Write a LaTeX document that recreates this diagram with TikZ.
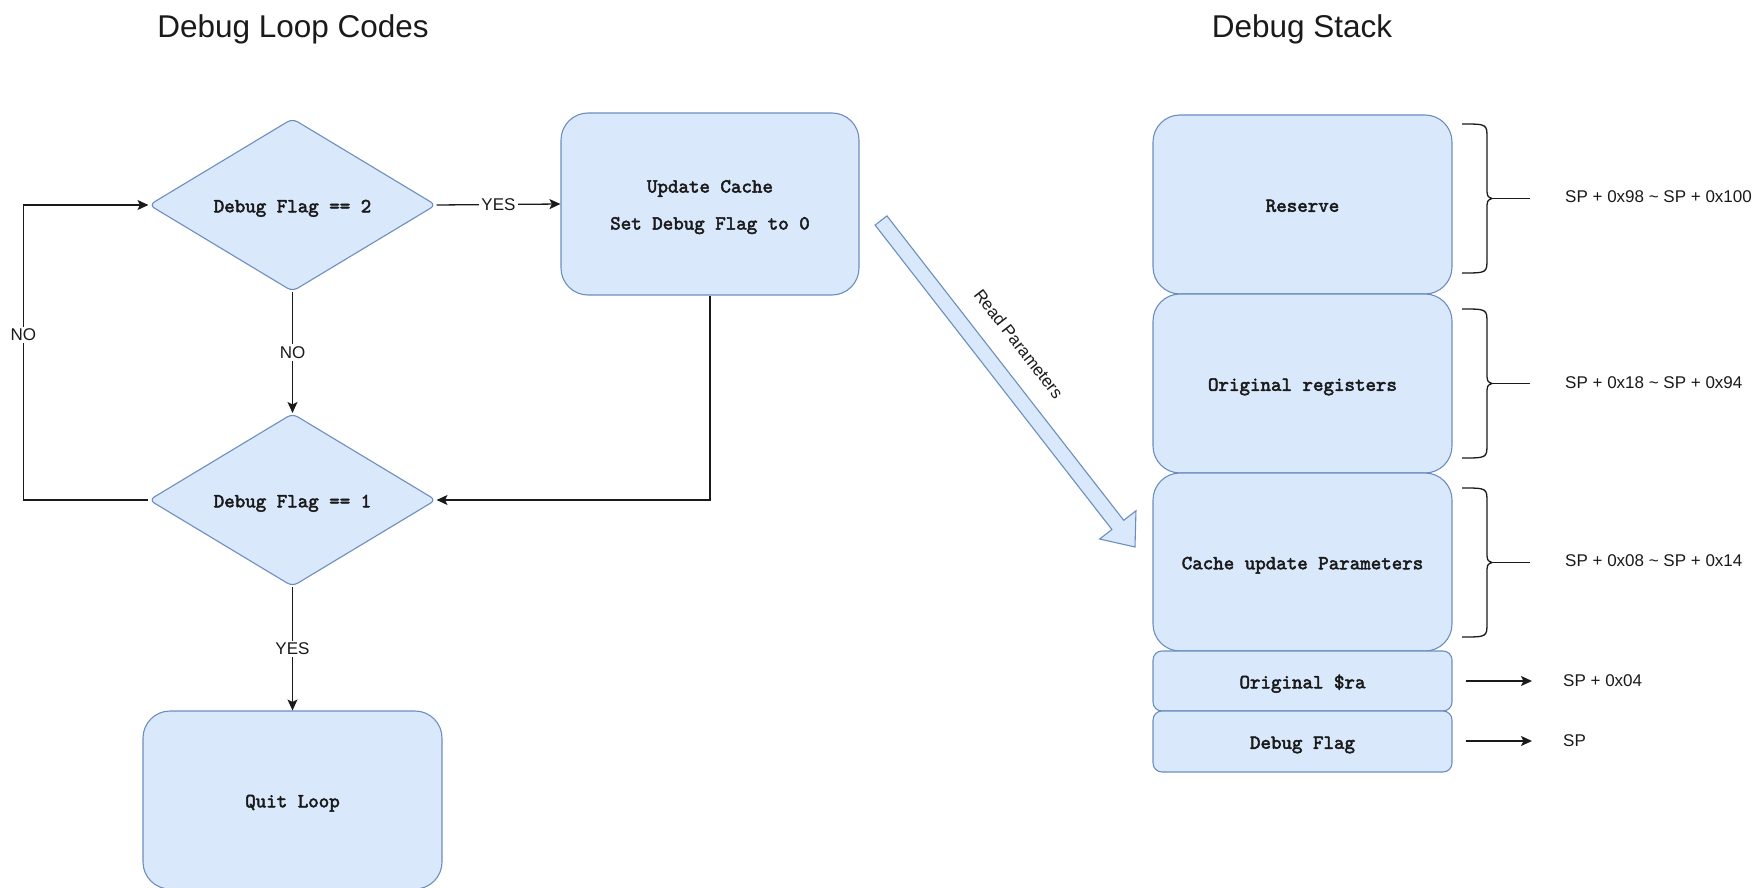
\documentclass[tikz,border=0pt]{standalone}
\usepackage{fontspec}
\setmainfont{Liberation Sans}
\newfontfamily\codefont{lmmono10-regular.otf}[FakeBold=2.5]
\usetikzlibrary{shapes.geometric,arrows.meta,calc}
\definecolor{boxfill}{HTML}{DAE8FC}
\definecolor{boxline}{HTML}{6C8EBF}
\definecolor{ink}{HTML}{1A1A1A}

\begin{document}
\begin{tikzpicture}[x=1pt,y=-1pt,
  every node/.style={inner sep=0pt},
  codebase/.style={font=\codefont\fontsize{20}{24}\selectfont, text=ink},
  code/.style={codebase, text height=17pt, text depth=2.5pt},
  sans/.style={font=\fontsize{17}{20}\selectfont, text=ink},
  heading/.style={font=\fontsize{31.5}{36}\selectfont, text=ink, anchor=base},
  shapestyle/.style={draw=boxline, fill=boxfill, line width=1.1pt},
  decision/.style={diamond, shapestyle, code, minimum width=287pt,
    minimum height=173pt, aspect=1.66, rounded corners=6pt},
  procbox/.style={rectangle, shapestyle, rounded corners=27pt},
  stackbig/.style={rectangle, shapestyle, code, minimum width=299pt, rounded corners=27pt},
  stacksmall/.style={rectangle, shapestyle, code, minimum width=299pt, rounded corners=9pt},
  conn/.style={draw=ink, line width=1.3pt},
  arr/.style={conn, -{Stealth[length=11pt,width=10pt,inset=2.5pt]}},
  lbl/.style={sans, fill=white, inner sep=2pt},
  addr/.style={sans, anchor=west},
  bracepath/.style={draw=ink, line width=1.3pt},
  blockarrow/.style={shapestyle, line join=miter}
]
\useasboundingbox (0,0) rectangle (1762,888);

% headings
\node[heading] (t1) at (293,38) {Debug Loop Codes};
\node[heading] (t2) at (1302,38) {Debug Stack};

% flow chart of the debug loop
\node[decision] (d1) at (292.5,205) {Debug Flag == 2};
\node[decision] (d2) at (292.5,500) {Debug Flag == 1};
\node[procbox, codebase, minimum width=298pt, minimum height=182pt, align=center]
  (upd) at (710,204) {\rule{0pt}{18.6pt}Update Cache\\[13pt]Set Debug Flag to 0};
\node[procbox, code, minimum width=299pt, minimum height=178pt] (quit) at (292.5,800) {Quit Loop};

\draw[arr] (d1.east) -- node[lbl]{YES} (upd.west);
\draw[arr] (d1.south) -- node[lbl]{NO} (d2.north);
\draw[arr] (upd.south) |- (d2.east);
\draw[arr] (d2.west) -- ++(-125,0) |- node[lbl,pos=0.28]{NO} (d1.west);
\draw[arr] (d2.south) -- node[lbl]{YES} (quit.north);

% stack layout
\node[stackbig, minimum height=179pt] (res) at (1302.5,204.5) {Reserve};
\node[stackbig, minimum height=179pt] (reg) at (1302.5,383.5) {Original registers};
\node[stackbig, minimum height=178pt] (par) at (1302.5,562) {Cache update Parameters};
\node[stacksmall, minimum height=60pt] (ra) at (1302.5,681) {Original \$ra};
\node[stacksmall, minimum height=61pt] (flag) at (1302.5,741.5) {Debug Flag};

% braces marking address ranges
\foreach \yc in {198.5,383.5,562.5}{
  \begin{scope}[shift={(1487,\yc)}]
    \draw[bracepath] (-25,-74.5) .. controls (0,-74.5) .. (0,-60) -- (0,-12)
      .. controls (0,-2) .. (5,0) .. controls (0,2) .. (0,12) -- (0,60)
      .. controls (0,74.5) .. (-25,74.5);
    \draw[bracepath] (5,0) -- (43,0);
  \end{scope}
}

\node[addr] (a1) at (1565,197) {SP + 0x98 \textasciitilde{} SP + 0x100};
\node[addr] (a2) at (1565,383) {SP + 0x18 \textasciitilde{} SP + 0x94};
\node[addr] (a3) at (1565,561) {SP + 0x08 \textasciitilde{} SP + 0x14};
\node[addr] (a4) at (1563,681) {SP + 0x04};
\node[addr] (a5) at (1563,741) {SP};

\draw[arr] ([xshift=13pt]ra.east |- a4.west) -- ([xshift=-31pt]a4.west);
\draw[arr] ([xshift=13pt]flag.east |- a5.west) -- ([xshift=-31pt]a5.west);

% wide arrow: parameters read from the stack
\coordinate (rp-s) at (881,220.5);
\coordinate (rp-e) at (1135,547);
\coordinate (rp-b) at ($(rp-e)!28pt!(rp-s)$);
\draw[blockarrow]
  ($(rp-s)!7.5pt!90:(rp-e)$) -- ($(rp-b)!7.5pt!90:(rp-e)$) -- ($(rp-b)!23pt!90:(rp-e)$)
  -- (rp-e) -- ($(rp-b)!23pt!-90:(rp-e)$) -- ($(rp-b)!7.5pt!-90:(rp-e)$)
  -- ($(rp-s)!7.5pt!-90:(rp-e)$) -- cycle;
\coordinate (rp-m) at ($(rp-s)!0.44!(rp-e)$);
\node[sans, rotate=-52.1] (rp-l) at ($(rp-m)!33pt!90:(rp-e)$) {Read Parameters};
\end{tikzpicture}
\end{document}
